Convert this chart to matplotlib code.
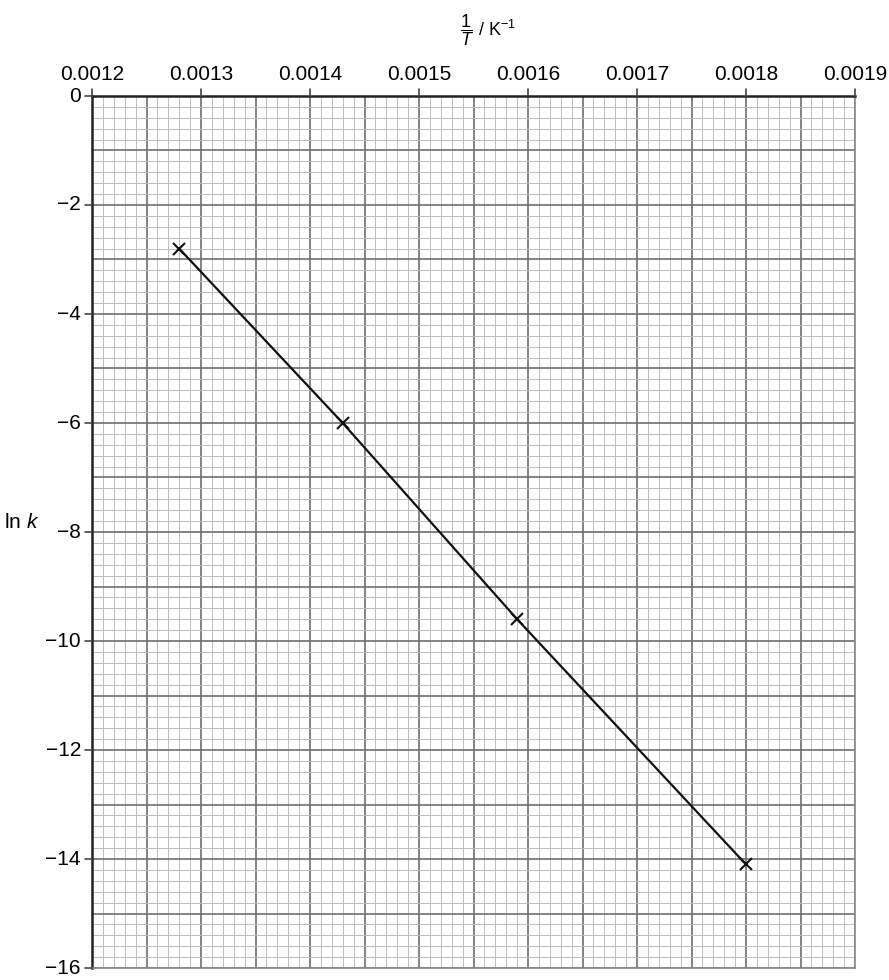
#!/usr/bin/env python3
# -*- coding: utf-8 -*-
"""ln k vs 1/T Arrhenius plot on graph-paper style grid."""

import numpy as np
import matplotlib
matplotlib.use('Agg')
import matplotlib.pyplot as plt
from matplotlib.ticker import MultipleLocator

matplotlib.rcParams['font.family'] = ['Liberation Sans', 'DejaVu Sans']
matplotlib.rcParams['mathtext.fontset'] = 'custom'
matplotlib.rcParams['mathtext.rm'] = 'Liberation Sans'
matplotlib.rcParams['mathtext.it'] = 'Liberation Sans:italic'

# data
inv_T = [0.00128, 0.00143, 0.00159, 0.00180]
ln_k = [-2.8, -6.0, -9.6, -14.1]

x_ticks = [0.0012, 0.0013, 0.0014, 0.0015, 0.0016, 0.0017, 0.0018, 0.0019]
y_ticks = [0, -2, -4, -6, -8, -10, -12, -14, -16]

fig = plt.figure(figsize=(8.89, 9.8), dpi=100)
W, H = 889, 980
ax = fig.add_axes([92 / W, 1 - 968 / H, (855 - 92) / W, (968 - 96) / H])

ax.set_xlim(0.0012, 0.0019)
ax.set_ylim(-16, 0)

# graph paper grid
ax.xaxis.set_major_locator(MultipleLocator(0.00005))
ax.xaxis.set_minor_locator(MultipleLocator(0.00001))
ax.yaxis.set_major_locator(MultipleLocator(1))
ax.yaxis.set_minor_locator(MultipleLocator(0.2))
ax.grid(which='minor', color='#bdbdbd', linewidth=0.7)
ax.grid(which='major', color='#6e6e6e', linewidth=1.2)
ax.set_axisbelow(True)
ax.tick_params(which='both', length=0, labelbottom=False, labelleft=False,
               labeltop=False)

# tick labels
for x in x_ticks:
    ax.annotate(f'{x:.4f}', xy=(x, 0), xycoords='data', xytext=(0, 9),
                textcoords='offset points', ha='center', va='bottom', fontsize=15)
for y in y_ticks:
    ax.annotate(f'{y}'.replace('-', '\u2212'), xy=(0.0012, y), xycoords='data',
                xytext=(-8, 0), textcoords='offset points', ha='right', va='center',
                fontsize=15)

# small outward tick marks
for x in x_ticks:
    ax.annotate('', xy=(x, 0), xytext=(0, 5), textcoords='offset points',
                arrowprops=dict(arrowstyle='-', color='#444444', lw=1.2,
                                shrinkA=0, shrinkB=0), annotation_clip=False)
for y in y_ticks:
    ax.annotate('', xy=(0.0012, y), xytext=(-5, 0), textcoords='offset points',
                arrowprops=dict(arrowstyle='-', color='#444444', lw=1.2,
                                shrinkA=0, shrinkB=0), annotation_clip=False)

for side in ['top', 'left']:
    ax.spines[side].set_color('#222222')
    ax.spines[side].set_linewidth(1.8)
for side in ['right', 'bottom']:
    ax.spines[side].set_color('#8a8a8a')
    ax.spines[side].set_linewidth(1.2)

ax.plot(inv_T, ln_k, color='#111111', linewidth=1.6, marker='x',
        markersize=9, markeredgewidth=1.5, clip_on=False)

fig.text(460 / W, 1 - 30 / H, r'$\dfrac{1}{T}$ / K$^{-1}$', ha='left', va='center',
         fontsize=13)
fig.text(39 / W, 1 - 522 / H, r'ln $k$', ha='right', va='center', fontsize=15)

fig.savefig('out.png', dpi=100)
